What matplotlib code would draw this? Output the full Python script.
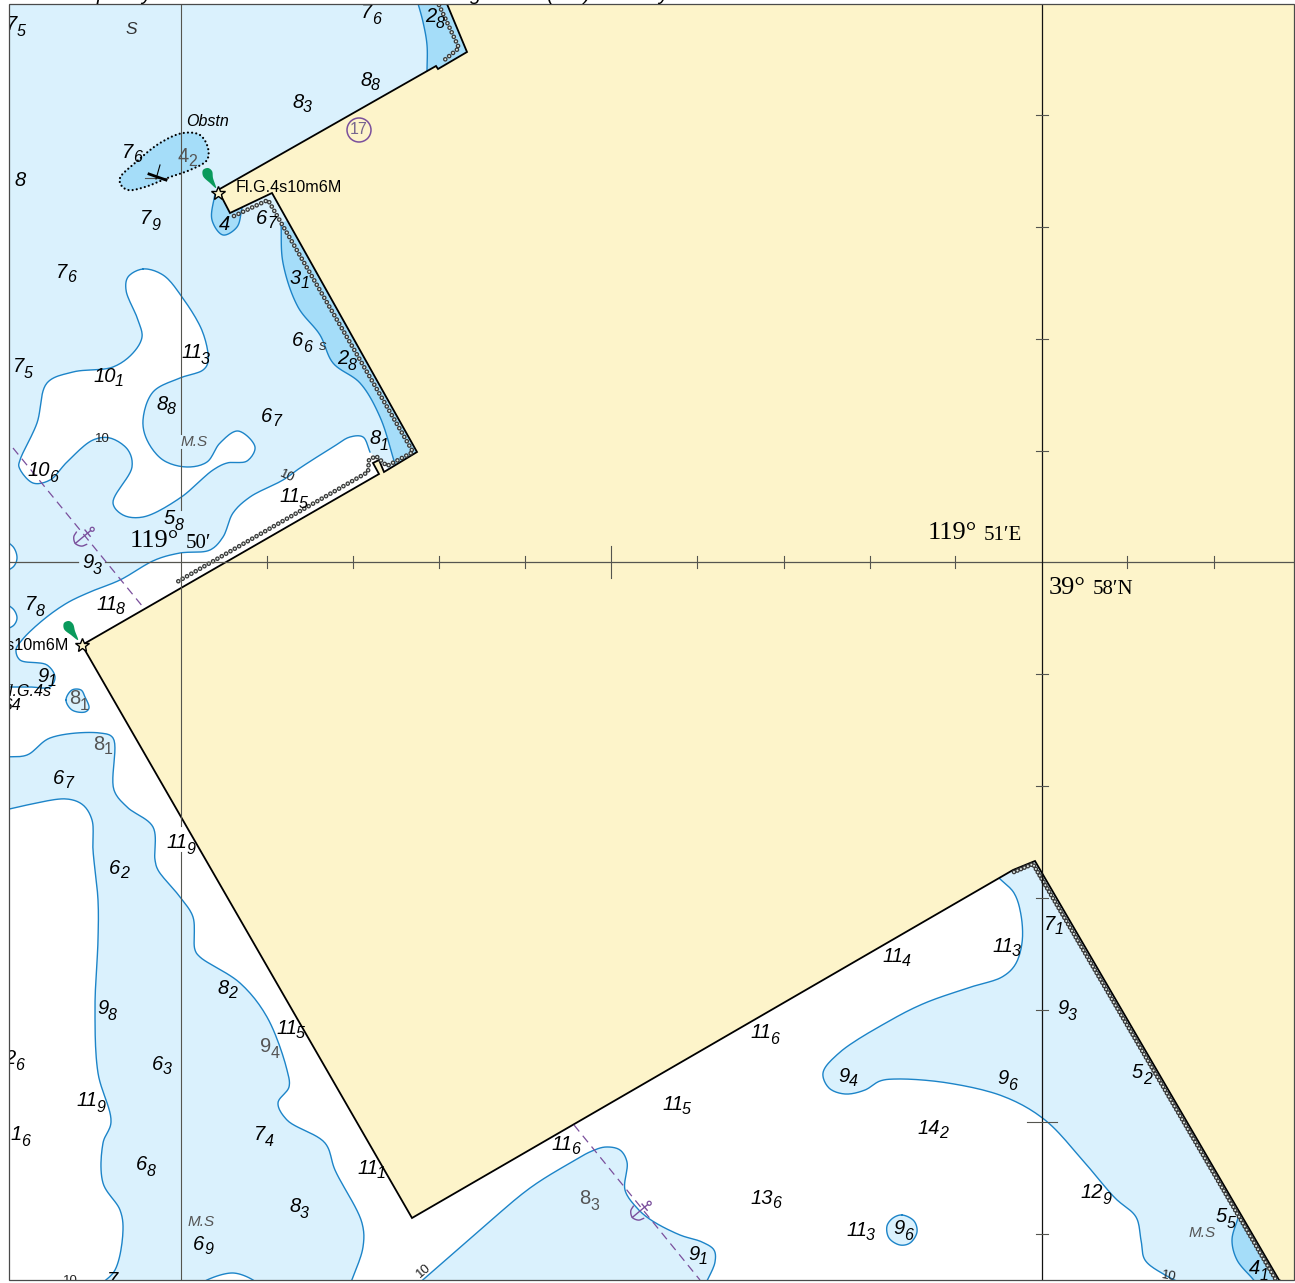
## Redraws the nautical chart sheet in pixel coordinates ##

import numpy as np
from matplotlib import pyplot as plt
from matplotlib.patches import Polygon, Circle, Rectangle

plt.rcParams['font.family'] = ['Liberation Sans', 'DejaVu Sans']
plt.rcParams['lines.scale_dashes'] = False

WATER = '#daf1fd'; SHALLOW = '#a5ddf9'; LAND = '#fdf4ca'
CONTOUR = '#1c84c8'; PURPLE = '#7a4f9c'; GRID = '#55554f'; GREEN = '#0a9a5c'

# Shore of the land area
land = [(447, 4), (467, 52), (438, 69), (436, 66), (218, 190), (230, 213), (272, 193), (417, 452),
        (384, 472), (379, 460), (373, 463), (379, 474), (82, 645), (412, 1218), (1013, 870),
        (1035, 861), (1279, 1280), (1300, 1290), (1300, -5)]

# 10 m contours, open ones end outside the frame or under the land
c_strip = [(5, 687), (30, 687), (50, 687), (55, 677), (47, 665), (20, 660), (16, 650), (22, 640), (43, 620), (67, 603),
           (90, 592), (120, 580), (155, 560), (180, 553), (210, 550), (223, 537), (233, 513), (250, 497), (283, 480),
           (300, 468), (333, 447), (350, 437), (363, 437), (370, 452)]
c_right = [(999, 878), (1014, 893), (1021, 915), (1022, 943), (1015, 965), (1002, 977), (971, 987), (925, 1003), (891, 1020),
           (839, 1053), (823, 1073), (829, 1088), (845, 1094), (865, 1090), (880, 1081), (897, 1079), (948, 1083),
           (1005, 1097), (1045, 1120), (1085, 1163), (1115, 1198), (1136, 1217), (1141, 1240), (1145, 1260),
           (1165, 1275), (1185, 1285)]
c_island = [(417, 1285), (480, 1230), (530, 1188), (570, 1163), (592, 1151), (606, 1147), (620, 1150), (627, 1162),
            (625, 1190), (637, 1208), (651, 1220), (680, 1235), (702, 1242), (714, 1250), (715, 1262), (705, 1285)]
c_mid = [(5, 757), (27, 755), (50, 738), (100, 733), (113, 738), (114, 790), (127, 807), (153, 827), (155, 860),
         (158, 870), (180, 897), (193, 917), (195, 950), (200, 957), (240, 983), (267, 1017), (287, 1070),
         (289, 1087), (278, 1103), (287, 1120), (325, 1143), (335, 1170), (362, 1223), (363, 1247), (350, 1285)]
c_left = [(5, 810), (27, 805), (67, 799), (83, 805), (92, 820), (93, 850), (98, 900), (98, 940), (95, 1007),
          (98, 1073), (111, 1122), (103, 1143), (103, 1183), (120, 1210), (123, 1230), (115, 1270), (100, 1285)]
c_bottom = [(200, 1285), (207, 1280), (233, 1273), (253, 1280), (258, 1285)]
c_nick1 = [(5, 540), (14, 548), (17, 558), (14, 566), (5, 572)]
c_nick2 = [(5, 603), (14, 610), (17, 618), (14, 625), (5, 630)]
c_blob = [(143, 269), (163, 275), (182, 297), (203, 333), (208, 362), (203, 370), (180, 378), (153, 392), (143, 420),
          (147, 440), (163, 460), (187, 467), (207, 462), (220, 443), (238, 431), (255, 447), (247, 461), (227, 463),
          (213, 470), (180, 498), (143, 517), (123, 515), (113, 503), (132, 467), (128, 450), (110, 438), (93, 440),
          (67, 462), (50, 480), (33, 483), (19, 467), (20, 460), (37, 423), (47, 383), (73, 372), (113, 367),
          (133, 353), (142, 337), (138, 320), (126, 290), (128, 277)]
c_hole96 = [(902, 1215), (914, 1221), (917, 1232), (910, 1243), (900, 1245), (889, 1238), (887, 1226), (893, 1218)]
c_hole81 = [(66, 700), (72, 690), (81, 690), (85, 697), (89, 708), (85, 712), (72, 710)]

# Shallow patches, shore side is hidden under the land
s_north = [(417, 0), (423, 22), (427, 45), (427, 72)]
s_long = [(281, 223), (283, 263), (298, 307), (320, 335), (333, 363), (360, 383), (380, 417), (395, 464)]
s_hook = [(215, 193), (212, 220), (223, 235), (237, 227), (242, 208)]
s_south = [(1238, 1218), (1232, 1240), (1237, 1260), (1252, 1278), (1258, 1285)]
obstn = [(120, 178), (135, 163), (160, 143), (183, 133), (200, 135), (208, 148), (207, 160), (190, 170), (170, 177),
         (145, 187), (128, 190), (121, 185)]

# Beaded shoreline with bead spacing, anchorage lines
beads = [[(439, 5), (459, 48), (442, 62)],
         [(234, 216), (268, 200), (413, 452), (387, 466), (376, 456), (369, 460), (368, 472), (177, 582)],
         [(1014, 872), (1033, 864), (1276, 1280)]]
bead_gap = [3.6, 3.6, 2.7]
anchor_lines = [[(13, 448), (143, 607)], [(574, 1125), (700, 1280)]]
anchors = [(83, 537), (640, 1211)]
anchor_shank = [(0, -10), (0, 10)]
anchor_stock = [(-4, -6), (4, -6)]
anchor_arc = [(-8, 2), (-6, 7), (0, 10), (6, 7), (8, 2)]
anchor_turn = 50

# Graticule
grid_v1 = [(4, 434), (449, 510), (553, 826), (852, 1280)]
grid_h = [(9, 78), (105, 1294)]
ticks_x = [267, 353, 439, 525, 611, 697, 784, 870, 955, 1127, 1214]
ticks_x_len = [6, 6, 6, 6, 16, 6, 6, 6, 6, 6, 6]
ticks_y = [115, 227, 339, 451, 674, 786, 898, 1010, 1122, 1234]
ticks_y_len = [6, 6, 6, 6, 6, 6, 6, 6, 15, 6]

# Lights
lights = [(218, 193), (82, 645)]
drops = [[(216, 188), (210, 183), (203, 176), (203, 170), (208, 168), (212, 171), (213, 178)],
         [(78, 640), (71, 635), (64, 629), (64, 623), (69, 621), (73, 624), (75, 631)]]

# Soundings: left edge, mid height, whole metres, decimetres
soundings = [(7, 24, '7', '5'), (362, 12, '7', '6'), (426, 16, '2', '8'), (361, 79, '8', '8'), (293, 101, '8', '3'),
             (123, 151, '7', '6'), (15, 180, '8', ''), (141, 218, '7', '9'), (220, 223, '4', ''), (257, 217, '6', '7'),
             (57, 271, '7', '6'), (291, 277, '3', '1'), (293, 340, '6', '6'), (338, 358, '2', '8'), (182, 352, '11', '3'),
             (14, 366, '7', '5'), (94, 375, '10', '1'), (157, 403, '8', '8'), (262, 415, '6', '7'), (370, 438, '8', '1'),
             (28, 470, '10', '6'), (280, 496, '11', '5'), (165, 518, '5', '8'), (83, 562, '9', '3'), (26, 604, '7', '8'),
             (97, 603, '11', '8'), (38, 675, '9', '1'), (54, 777, '6', '7'), (167, 842, '11', '9'), (110, 867, '6', '2'),
             (218, 987, '8', '2'), (98, 1008, '9', '8'), (277, 1027, '11', '5'), (153, 1063, '6', '3'), (5, 1058, '2', '6'),
             (77, 1100, '11', '9'), (255, 1134, '7', '4'), (11, 1134, '1', '6'), (137, 1164, '6', '8'), (290, 1206, '8', '3'),
             (358, 1167, '11', '1'), (194, 1243, '6', '9'), (108, 1279, '7', ''), (552, 1143, '11', '6'), (689, 1253, '9', '1'),
             (751, 1197, '13', '6'), (847, 1229, '11', '3'), (894, 1228, '9', '6'), (663, 1103, '11', '5'), (751, 1032, '11', '6'),
             (883, 955, '11', '4'), (993, 945, '11', '3'), (839, 1075, '9', '4'), (998, 1078, '9', '6'), (918, 1127, '14', '2'),
             (1081, 1192, '12', '9'), (1045, 923, '7', '1'), (1058, 1008, '9', '3'), (1133, 1072, '5', '2'),
             (1217, 1216, '5', '5'), (1250, 1268, '4', '1')]
grey_soundings = [(178, 155, '4', '2'), (70, 698, '8', '1'), (94, 743, '8', '1'), (261, 1046, '9', '4'), (580, 1198, '8', '3')]
contour_labels = [(102, 439, 0), (287, 476, -25), (70, 1281, 0), (424, 1271, 40), (1169, 1276, -10)]
seabed = [(181, 442), (188, 1222), (1189, 1233)]
caption_bits = [(97, 'p'), (141, 'y'), (470, 'g'), (546, '('), (584, ')'), (658, 'y')]


def smooth(pts, closed=False):
	# Centripetal Catmull-Rom through the given points, returns an n x 2 array
	p = np.array(pts, dtype=float)
	if closed:
		p = np.vstack([p[-1], p, p[0], p[1]])
	else:
		p = np.vstack([2 * p[0] - p[1], p, 2 * p[-1] - p[-2]])
	out = []
	for i in range(1, len(p) - 2):
		a, b, c, d = p[i - 1], p[i], p[i + 1], p[i + 2]
		t0 = 0.0
		t1 = t0 + np.linalg.norm(b - a) ** 0.5
		t2 = t1 + np.linalg.norm(c - b) ** 0.5
		t3 = t2 + np.linalg.norm(d - c) ** 0.5
		t = np.linspace(t1, t2, 12, endpoint=False)[:, None]
		a1 = (t1 - t) / (t1 - t0) * a + (t - t0) / (t1 - t0) * b
		a2 = (t2 - t) / (t2 - t1) * b + (t - t1) / (t2 - t1) * c
		a3 = (t3 - t) / (t3 - t2) * c + (t - t2) / (t3 - t2) * d
		b1 = (t2 - t) / (t2 - t0) * a1 + (t - t0) / (t2 - t0) * a2
		b2 = (t3 - t) / (t3 - t1) * a2 + (t - t1) / (t3 - t1) * a3
		out.append((t2 - t) / (t2 - t1) * b1 + (t - t1) / (t2 - t1) * b2)
	out.append(p[-2][None, :])
	return np.vstack(out)


def fill(ax, xy, color, z):
	ax.add_patch(Polygon(xy, closed=True, fc=color, ec='none', zorder=z))


def contour(ax, xy, z=4):
	ax.plot(xy[:, 0], xy[:, 1], color=CONTOUR, lw=1.0, zorder=z)


def sounding(ax, x, y, whole, dec, color='black', style='italic'):
	ax.text(x - 1, y + 1, whole, fontsize=14.5, style=style, color=color, ha='left', va='center', zorder=9)
	step = 11 if len(whole) == 1 else 20 if whole == '11' else 22
	if dec:
		ax.text(x - 1 + step, y + 7, dec, fontsize=11.5, style=style, color=color, ha='left', va='center', zorder=9)


fig = plt.figure(figsize=(12.95, 12.83), dpi=100)
ax = fig.add_axes([0, 0, 1, 1])
ax.set_xlim(0, 1295); ax.set_ylim(1283, 0); ax.axis('off')

ax.add_patch(Rectangle((0, 0), 1295, 1283, fc=WATER, ec='none', zorder=0))

# Deep water
main = np.vstack([smooth(c_strip), [(400, 480), (1000, 860)], smooth(c_right), smooth(c_island)[::-1],
                  smooth(c_mid)[::-1]])
fill(ax, main, 'white', 1)
fill(ax, np.vstack([smooth(c_left), [(5, 1285)]]), 'white', 1)
fill(ax, smooth(c_blob, closed=True), 'white', 1)
for c in (c_bottom, c_nick1, c_nick2):
	fill(ax, smooth(c), 'white', 1)
for c in (c_hole96, c_hole81):
	fill(ax, smooth(c, closed=True), WATER, 2)

# Shallows, closed off under the land
fill(ax, np.vstack([smooth(s_north), [(480, 60), (455, 0)]]), SHALLOW, 3)
fill(ax, np.vstack([smooth(s_long), [(430, 450), (300, 215)]]), SHALLOW, 3)
fill(ax, np.vstack([smooth(s_hook), [(225, 190)]]), SHALLOW, 3)
fill(ax, np.vstack([smooth(s_south), [(1290, 1285)]]), SHALLOW, 3)

for c in (c_strip, c_right, c_island, c_mid, c_left, c_bottom, c_nick1, c_nick2, s_north, s_long, s_hook, s_south):
	contour(ax, smooth(c))
for c in (c_blob, c_hole96, c_hole81):
	contour(ax, smooth(c, closed=True))

# Obstruction
ob = smooth(obstn, closed=True)
fill(ax, ob, SHALLOW, 3)
ax.plot(ob[:, 0], ob[:, 1], color='black', lw=1.6, ls=(0, (0.01, 3.0)), dash_capstyle='round', zorder=6)
ax.plot([145, 168], [178, 178], color='#555555', lw=0.8, zorder=7)
ax.plot([149, 166], [174, 180], color='black', lw=2.0, zorder=7)
ax.plot([156, 160], [179, 165], color='black', lw=0.8, zorder=7)

# Land
ax.add_patch(Polygon(land, closed=True, fc=LAND, ec='black', lw=1.3, joinstyle='miter', zorder=5))

# Beaded shore
for b, gap in zip(beads, bead_gap):
	xs = [p[0] for p in b]; ys = [p[1] for p in b]
	ax.plot(xs, ys, color='#3a3a3a', lw=3.4, ls=(0, (0.01, gap)), dash_capstyle='round', zorder=6)
	ax.plot(xs, ys, color='#e4eee8', lw=1.5, ls=(0, (0.01, gap)), dash_capstyle='round', zorder=6.5)

# Graticule
for y0, y1 in grid_v1:
	ax.plot([181, 181], [y0, y1], color=GRID, lw=0.8, zorder=7)
for x0, x1 in grid_h:
	ax.plot([x0, x1], [562, 562], color=GRID, lw=0.9, zorder=7)
ax.plot([1042, 1042], [4, 1280], color='#111111', lw=0.9, zorder=7)
for x, n in zip(ticks_x, ticks_x_len):
	ax.plot([x, x], [562 - n, 562 + n], color=GRID, lw=0.8, zorder=7)
for y, n in zip(ticks_y, ticks_y_len):
	ax.plot([1042 - n, 1042 + n], [y, y], color=GRID, lw=0.8, zorder=7)

# Anchorage
ang = np.radians(anchor_turn)
turn = np.array([[np.cos(ang), -np.sin(ang)], [np.sin(ang), np.cos(ang)]])
for l in anchor_lines:
	ax.plot([p[0] for p in l], [p[1] for p in l], color=PURPLE, lw=0.9, ls=(0, (6, 4)), zorder=7)
for x, y in anchors:
	for shape in (np.array(anchor_shank, float), np.array(anchor_stock, float), smooth(anchor_arc)):
		xy = shape @ turn.T + [x, y]
		ax.plot(xy[:, 0], xy[:, 1], color=PURPLE, lw=1.0, zorder=8)
	ring = np.array([0, -12.0]) @ turn.T + [x, y]
	ax.add_patch(Circle(ring, 2, fc='none', ec=PURPLE, lw=0.9, zorder=8))
ax.add_patch(Circle((359, 130), 12, fc='none', ec=PURPLE, lw=1.1, zorder=8))
ax.text(359, 130, '17', fontsize=11.5, color='#77668f', ha='center', va='center', zorder=9)

# Lights
for d in drops:
	fill(ax, smooth(d, closed=True), GREEN, 8)
for x, y in lights:
	ax.plot(x, y, marker='*', ms=10, mfc=LAND, mec='black', mew=1.0, zorder=9)
ax.text(236, 187, 'Fl.G.4s10m6M', fontsize=11.6, ha='left', va='center', zorder=9)
ax.text(69, 645, 'Fl.G.4s10m6M', fontsize=11.6, ha='right', va='center', zorder=9)
ax.text(52, 691, 'Fl.G.4s', fontsize=11.6, style='italic', ha='right', va='center', zorder=9)
ax.text(21, 705, 'S4', fontsize=11.6, style='italic', ha='right', va='center', zorder=9)

# Depths and names
for x, y, w, d in soundings:
	sounding(ax, x, y, w, d)
for x, y, w, d in grey_soundings:
	sounding(ax, x, y, w, d, color='#555555', style='normal')
for x, y, r in contour_labels:
	ax.text(x, y, '10', fontsize=9.5, color='#222222', rotation=r, ha='center', va='center', zorder=9)
for x, y in seabed:
	ax.text(x, y, 'M.S', fontsize=11, style='italic', color='#555555', ha='left', va='center', zorder=9)
ax.text(186, 122, 'Obstn', fontsize=11.5, style='italic', ha='left', va='center', zorder=9)
ax.text(126, 30, 'S', fontsize=12.5, style='italic', color='#333333', ha='left', va='center', zorder=9)
ax.text(323, 346, 's', fontsize=11, style='italic', color='#333333', ha='center', va='center', zorder=9)

# Graticule labels
ax.text(130, 541, '119\u00b0', family='Liberation Serif', fontsize=19, ha='left', va='center', zorder=9)
ax.text(186, 543, '50\u2032', family='Liberation Serif', fontsize=15, ha='left', va='center', zorder=9)
ax.text(928, 533, '119\u00b0', family='Liberation Serif', fontsize=19, ha='left', va='center', zorder=9)
ax.text(984, 535, '51\u2032E', family='Liberation Serif', fontsize=15, ha='left', va='center', zorder=9)
ax.text(1049, 588, '39\u00b0', family='Liberation Serif', fontsize=19, ha='left', va='center', zorder=9)
ax.text(1093, 590, '58\u2032N', family='Liberation Serif', fontsize=15, ha='left', va='center', zorder=9)

# Mask outside the sheet, then the neatline
for r in [(0, 0, 9, 1283), (0, 0, 1295, 4), (0, 1280, 1295, 3), (1294, 0, 1, 1283)]:
	ax.add_patch(Rectangle((r[0], r[1]), r[2], r[3], fc='white', ec='none', zorder=20))
ax.add_patch(Rectangle((9, 4), 1285, 1276, fc='none', ec='#4a4a4a', lw=0.9, zorder=21))

# Caption of the page above, only its descenders reach into view
for x, s in caption_bits:
	ax.text(x, 0, s, fontsize=14.5, style='italic', ha='left', va='baseline', zorder=22)

fig.savefig('out.png', dpi=100)
